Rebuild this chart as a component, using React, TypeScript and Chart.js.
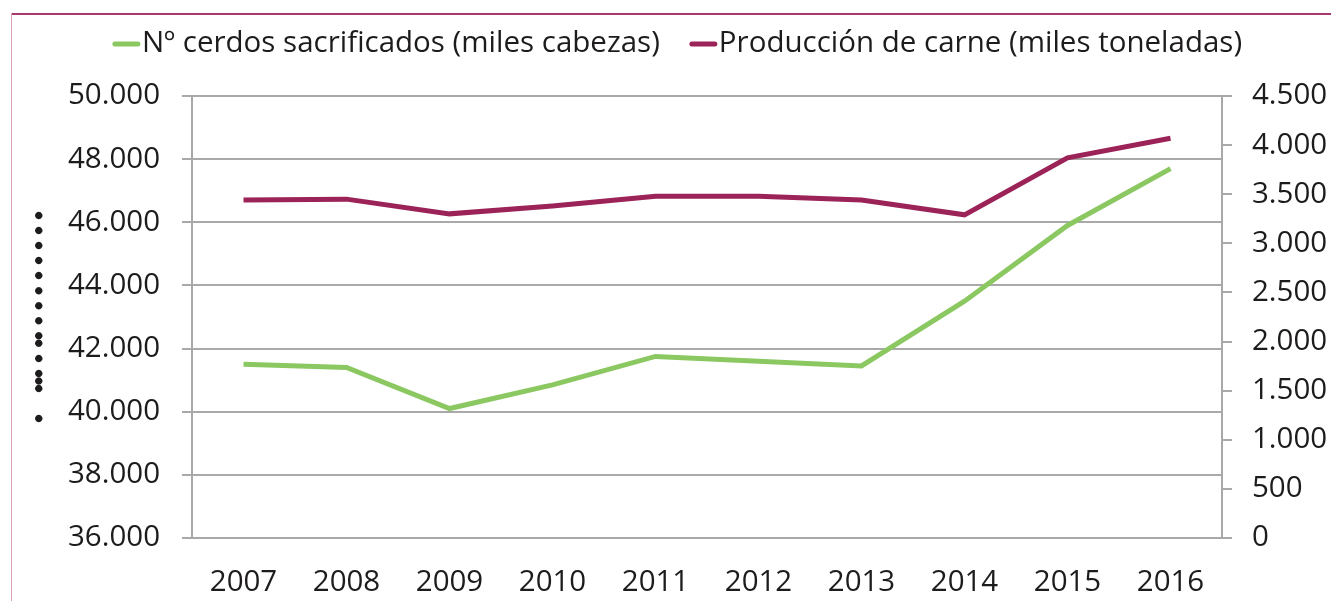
import React, { useEffect, useRef } from 'react';
import { Chart, registerables } from 'chart.js';

Chart.register(...registerables);

const years = ['2007', '2008', '2009', '2010', '2011', '2012', '2013', '2014', '2015', '2016'];
const pigsSlaughtered = [41500, 41400, 40100, 40850, 41750, 41600, 41450, 43500, 45900, 47700];
const meatProduction = [3440, 3450, 3300, 3380, 3480, 3480, 3440, 3290, 3870, 4070];
const seriesLabels = ['Nº cerdos sacrificados (miles cabezas)', 'Producción de carne (miles toneladas)'];
const seriesColors = ['#8cc862', '#9b2358'];
const leftAxisRange = [36000, 50000, 2000];
const rightAxisRange = [0, 4500, 500];
const leftAxisTitle = '●   ●●● ● ●● ● ● ● ● ● ● ● ●';

const TEXT = '#1e1b1c';
const GRID = '#a9a9a9';
const FONT = '"Open Sans", "Noto Sans", sans-serif';
const FS = 29.5;

const fmt = (v: number) => String(v).replace(/\B(?=(\d{3})+(?!\d))/g, '.');

const legendPlugin = {
  id: 'topLegend',
  afterDraw(chart: any) {
    const ctx = chart.ctx;
    ctx.save();
    ctx.font = `${FS}px ${FONT}`;
    const lineW = 27;
    const gap = 2;
    const between = 30;
    const items = chart.data.datasets.map((ds: any) => ({
      label: ds.label,
      color: ds.borderColor,
      w: ctx.measureText(ds.label).width,
    }));
    const total = items.reduce((s: number, it: any) => s + lineW + gap + it.w, 0) + between * (items.length - 1);
    let x = chart.width / 2 + 12 - total / 2;
    const y = 44;
    ctx.textBaseline = 'middle';
    ctx.textAlign = 'left';
    for (const it of items) {
      ctx.strokeStyle = it.color;
      ctx.lineWidth = 5;
      ctx.lineCap = 'round';
      ctx.beginPath();
      ctx.moveTo(x + 2, y);
      ctx.lineTo(x + lineW - 2, y);
      ctx.stroke();
      ctx.fillStyle = TEXT;
      ctx.fillText(it.label, x + lineW + gap, y);
      x += lineW + gap + it.w + between;
    }
    ctx.restore();
  },
};

export default function App() {
  const ref = useRef<HTMLCanvasElement | null>(null);

  useEffect(() => {
    if (!ref.current) return;
    Chart.defaults.font.family = FONT;
    Chart.defaults.color = TEXT;
    const chart = new Chart(ref.current, {
      type: 'line',
      data: {
        labels: years,
        datasets: [
          {
            label: seriesLabels[0],
            data: pigsSlaughtered,
            borderColor: seriesColors[0],
            backgroundColor: seriesColors[0],
            borderWidth: 5,
            pointRadius: 0,
            tension: 0,
            yAxisID: 'y',
          },
          {
            label: seriesLabels[1],
            data: meatProduction,
            borderColor: seriesColors[1],
            backgroundColor: seriesColors[1],
            borderWidth: 5,
            pointRadius: 0,
            tension: 0,
            yAxisID: 'y1',
          },
        ],
      },
      options: {
        responsive: false,
        animation: false,
        layout: { padding: { top: 96, left: 0, right: 0, bottom: 0 } },
        plugins: {
          legend: { display: false },
          tooltip: { enabled: false },
        },
        scales: {
          x: {
            offset: true,
            grid: { display: false },
            border: { display: false },
            ticks: { font: { size: FS }, color: TEXT, padding: 19, maxRotation: 0 },
            afterFit: (s: any) => { s.height = 63; },
          },
          y: {
            position: 'left',
            min: leftAxisRange[0],
            max: leftAxisRange[1],
            ticks: {
              stepSize: leftAxisRange[2],
              font: { size: FS },
              color: TEXT,
              padding: 22,
              callback: (v: any) => fmt(Number(v)),
            },
            grid: { color: GRID, lineWidth: 2, tickLength: 10, drawTicks: true },
            border: { display: true, color: GRID, width: 2 },
            title: {
              display: true,
              text: leftAxisTitle,
              font: { family: '"DejaVu Sans Mono", monospace', size: 12.5 },
              color: TEXT,
              padding: { top: 31, bottom: 0 },
            },
            afterFit: (s: any) => { s.width = 192; },
          },
          y1: {
            position: 'right',
            min: rightAxisRange[0],
            max: rightAxisRange[1],
            ticks: {
              stepSize: rightAxisRange[2],
              font: { size: FS },
              color: TEXT,
              padding: 20,
              callback: (v: any) => fmt(Number(v)),
            },
            grid: { drawOnChartArea: false, color: GRID, lineWidth: 2, tickLength: 10 },
            border: { display: true, color: GRID, width: 2 },
            afterFit: (s: any) => { s.width = 109; },
          },
        },
      } as any,
      plugins: [legendPlugin],
    });
    return () => chart.destroy();
  }, []);

  return (
    <div style={{ position: 'fixed', left: 0, top: 0, width: 1331, height: 601, background: '#fff', overflow: 'hidden' }}>
      <canvas ref={ref} width={1331} height={601} style={{ position: 'absolute', left: 0, top: 0 }} />
      <div style={{ position: 'absolute', left: 11, top: 13, right: 0, height: 2, background: '#a8396e' }} />
      <div style={{ position: 'absolute', left: 11, top: 13, bottom: 0, width: 1, background: '#d9a6bd' }} />
    </div>
  );
}
